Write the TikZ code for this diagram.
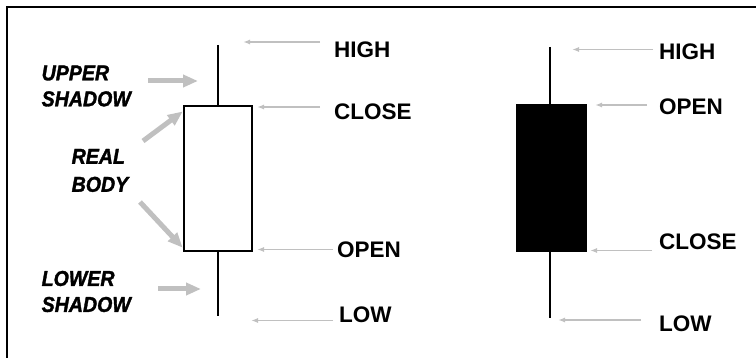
\documentclass[tikz,border=0pt]{standalone}
\usepackage{fontspec}
\setmainfont{Liberation Sans}
\newfontfamily\condfont[FakeStretch=0.91,FakeBold=1.6]{Liberation Sans Bold Italic}
\usetikzlibrary{arrows.meta}
\definecolor{arrgray}{RGB}{192,192,192}
\tikzset{
  x=1pt, y=-1pt,
  frameline/.style={line width=1.5pt, black},
  wick/.style={line width=1.2pt, black},
  whitebody/.style={draw=black, line width=2pt, fill=white, minimum width=68pt, minimum height=145pt, inner sep=0pt},
  blackbody/.style={draw=black, fill=black, line width=0pt, minimum width=70pt, minimum height=147pt, inner sep=0pt},
  pricelabel/.style={anchor=west, inner sep=0pt, font=\fontsize{22.5}{24}\selectfont\bfseries},
  partlabel/.style={anchor=west, inner sep=0pt, align=left, font=\fontsize{21.5}{26}\selectfont\condfont},
  thinarrow/.style={draw=arrgray, line width=1.5pt, -{Latex[length=7pt,width=5pt]}},
  fatarrow/.style={draw=arrgray, line width=5pt, -{Triangle[length=15pt,width=12pt]}, shorten >=-1pt}
}
\begin{document}
\begin{tikzpicture}
\useasboundingbox (0,0) rectangle (756,358);
% frame (left and top edges)
\coordinate (fbl) at (7,358);
\coordinate (ftl) at (7,7);
\coordinate (ftr) at (756,7);
\draw[frameline] (fbl) -- (ftl) -- (ftr);

% white candle
\node[whitebody] (wbody) at (218,178.5) {};
\coordinate (whigh) at (218,45);
\coordinate (wlow) at (218,316);
\draw[wick] (whigh) -- (wbody.north);
\draw[wick] (wbody.south) -- (wlow);

% black candle
\node[blackbody] (bbody) at (551,178.5) {};
\coordinate (bhigh) at (550,47);
\coordinate (blow) at (550,318);
\draw[wick] (bhigh) -- (bhigh |- bbody.north);
\draw[wick] (bhigh |- bbody.south) -- (blow);

% price labels, white candle
\node[pricelabel] (lhigh) at (334,49.5) {HIGH};
\node[pricelabel] (lclose) at (334,112) {CLOSE};
\node[pricelabel] (lopen) at (337,250) {OPEN};
\node[pricelabel] (llow) at (339,315) {LOW};
% price labels, black candle
\node[pricelabel] (rhigh) at (659,52) {HIGH};
\node[pricelabel] (ropen) at (659,107) {OPEN};
\node[pricelabel] (rclose) at (659,242) {CLOSE};
\node[pricelabel] (rlow) at (659,324) {LOW};

% thin arrows, white candle
\coordinate (a1s) at (320,42);  \coordinate (a1e) at (243,42);
\coordinate (a2s) at (320,107); \coordinate (a2e) at (257,107);
\coordinate (a3s) at (333,249.5); \coordinate (a3e) at (257,249.5);
\coordinate (a4s) at (333,320.5); \coordinate (a4e) at (251,320.5);
\draw[thinarrow] (a1s) -- (a1e);
\draw[thinarrow] (a2s) -- (a2e);
\draw[thinarrow] (a3s) -- (a3e);
\draw[thinarrow] (a4s) -- (a4e);
% thin arrows, black candle
\coordinate (b1s) at (653,49.5); \coordinate (b1e) at (572,49.5);
\coordinate (b2s) at (647,105);  \coordinate (b2e) at (595,105);
\coordinate (b3s) at (652,250.5); \coordinate (b3e) at (590,250.5);
\coordinate (b4s) at (641,320);  \coordinate (b4e) at (558,320);
\draw[thinarrow] (b1s) -- (b1e);
\draw[thinarrow] (b2s) -- (b2e);
\draw[thinarrow] (b3s) -- (b3e);
\draw[thinarrow] (b4s) -- (b4e);

% part labels
\node[partlabel] (upper) at (41.5,86) {UPPER\\SHADOW};
\node[partlabel, font=\fontsize{21.5}{28}\selectfont\condfont] (real) at (71.5,170.5) {REAL\\BODY};
\node[partlabel] (lower) at (41.5,291.5) {LOWER\\SHADOW};

% fat arrows
\coordinate (f1s) at (148,81);  \coordinate (f1e) at (197,81);
\coordinate (f2s) at (143,141); \coordinate (f2e) at (182,112);
\coordinate (f3s) at (140,202); \coordinate (f3e) at (182,247);
\coordinate (f4s) at (158,289); \coordinate (f4e) at (200,289);
\draw[fatarrow] (f1s) -- (f1e);
\draw[fatarrow] (f2s) -- (f2e);
\draw[fatarrow] (f3s) -- (f3e);
\draw[fatarrow] (f4s) -- (f4e);
\end{tikzpicture}
\end{document}
